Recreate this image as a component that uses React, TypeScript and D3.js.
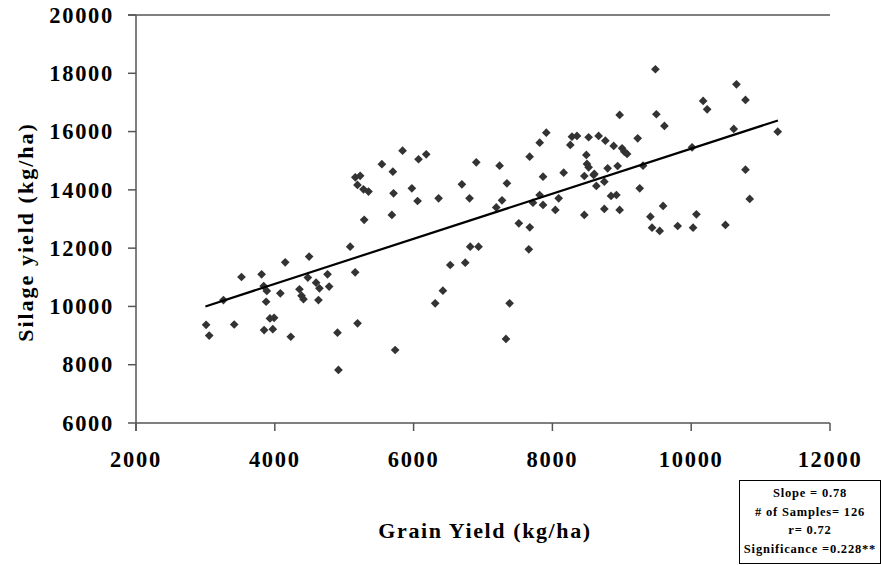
import * as d3 from 'd3';

// grain yield (kg/ha) and silage yield (kg/ha) per sample
const grainYield = [
  3010, 3055, 3415, 3260, 3520, 3810, 3840, 3885, 3875, 3930, 3990, 3846, 3971,
  4080, 4150, 4230, 4355, 4385, 4413, 4476, 4495, 4595, 4643, 4629, 4760, 4783,
  4903, 4917, 5086, 5158, 5192, 5160, 5230, 5191, 5278, 5350, 5288, 5543, 5701,
  5841, 6071, 6182, 5711, 5975, 6057, 6360, 5687, 6696, 6806, 6903, 7239, 7345,
  7274, 7191, 7516, 7674, 7660, 6816, 6936, 7672, 7817, 7912, 8282, 8354, 8258,
  7865, 8162, 7720, 7816, 7865, 8042, 8090, 6528, 6744, 6422, 6311, 5734, 7383,
  7331, 9484, 8969, 9498, 9614, 10172, 10230, 10652, 10782, 11247, 10613, 10013,
  10782, 10843, 9229, 9306, 9258, 8522, 8666, 8763, 8883, 9004, 9037, 9076, 8489,
  8498, 8522, 8460, 8594, 8796, 8940, 8633, 8748, 8845, 8922, 8460, 8748, 8969,
  9412, 9595, 9436, 9546, 9805, 10075, 10027, 10493, 8604,
];
const silageYield = [
  9370, 9000, 9380, 10220, 11010, 11100, 10700, 10530, 10160, 9590, 9610, 9190, 9220,
  10450, 11515, 8960, 10590, 10370, 10250, 10990, 11710, 10815, 10620, 10220, 11100, 10680,
  9100, 7820, 12050, 11170, 9420, 14430, 14480, 14170, 14020, 13940, 12970, 14880, 14625,
  15345, 15050, 15220, 13880, 14054, 13618, 13711, 13138, 14190, 13710, 14946, 14830, 14226,
  13642, 13398, 12853, 12716, 11961, 12050, 12050, 15139, 15619, 15963, 15825, 15850, 15540,
  14453, 14590, 13560, 13824, 13481, 13310, 13711, 11422, 11501, 10540, 10108, 8505, 10108,
  8883, 18138, 16570, 16594, 16193, 17050, 16765, 17623, 17084, 15997, 16089, 15461,
  14694, 13690, 15769, 14831, 14054, 15805, 15850, 15689, 15508, 15428, 15310, 15231, 15197,
  14888, 14775, 14476, 14511, 14740, 14819, 14133, 14281, 13790, 13824, 13138, 13344, 13310,
  13080, 13447, 12702, 12589, 12760, 13162, 12702, 12795, 14545,
];

// linear trend line end points
const trendX = [3000, 11250];
const trendY = [10000, 16380];

const xTicks = [2000, 4000, 6000, 8000, 10000, 12000];
const yTicks = [6000, 8000, 10000, 12000, 14000, 16000, 18000, 20000];

const statsLines = ['Slope = 0.78', '# of Samples= 126', 'r= 0.72', 'Significance =0.228**'];

const width = 881;
const height = 565;
const margin = { left: 136, top: 15, right: 51, bottom: 142 };
const font = '"Liberation Serif", "Times New Roman", serif';

export default function App() {
  const x = d3.scaleLinear().domain([2000, 12000]).range([margin.left, width - margin.right]);
  const y = d3.scaleLinear().domain([6000, 20000]).range([height - margin.bottom, margin.top]);
  const diamond = d3.symbol().type(d3.symbolSquare).size(38)();
  const trend = d3.line<number>()
    .x((d) => x(d))
    .y((_, i) => y(trendY[i]));

  const x0 = x(2000);
  const x1 = x(12000);
  const yb = y(6000);
  const yt = y(20000);

  return (
    <svg
      width={width}
      height={height}
      viewBox={`0 0 ${width} ${height}`}
      style={{ position: 'absolute', left: 0, top: 0, background: '#fff' }}
      fontFamily={font}
      fontWeight="bold"
    >
      {/* axes */}
      <line x1={x0} x2={x0} y1={yt} y2={yb + 8} stroke="#555" strokeWidth={1.5} />
      <line x1={x0 - 8} x2={x1} y1={yt} y2={yt} stroke="#555" strokeWidth={1.5} />
      <line x1={x0} x2={x1} y1={yb} y2={yb} stroke="#555" strokeWidth={1.5} />
      {yTicks.map((t) => (
        <g key={t}>
          <line x1={x0 - 8} x2={x0} y1={y(t)} y2={y(t)} stroke="#555" strokeWidth={1.5} />
          <text x={x0 - 22} y={y(t)} dy="0.34em" textAnchor="end" fontSize={22.5} letterSpacing={1.7}>
            {t}
          </text>
        </g>
      ))}
      {xTicks.map((t) => (
        <g key={t}>
          <line x1={x(t)} x2={x(t)} y1={yb} y2={yb + 8} stroke="#555" strokeWidth={1.5} />
          <text x={x(t)} y={yb + 44} textAnchor="middle" fontSize={22.5} letterSpacing={1.7}>
            {t}
          </text>
        </g>
      ))}

      {/* points */}
      {grainYield.map((g, i) => (
        <path
          key={i}
          d={diamond}
          transform={`translate(${x(g)},${y(silageYield[i])}) rotate(45)`}
          fill="#333"
        />
      ))}

      {/* trend line */}
      <path d={trend(trendX) ?? ''} fill="none" stroke="#000" strokeWidth={2.2} />

      {/* axis titles */}
      <text x={485} y={538} textAnchor="middle" fontSize={22} letterSpacing={1.6}>
        Grain Yield (kg/ha)
      </text>
      <text
        transform="translate(33,232) rotate(-90)"
        textAnchor="middle"
        fontSize={22}
        letterSpacing={2}
      >
        Silage yield (kg/ha)
      </text>

      {/* stats box */}
      <rect x={739.5} y={480.5} width={141} height={83} fill="#fff" stroke="#000" strokeWidth={1} />
      {statsLines.map((s, i) => (
        <text key={s} x={810} y={497 + i * 18.5} textAnchor="middle" fontSize={12.5} letterSpacing={0.8}>
          {s}
        </text>
      ))}
    </svg>
  );
}
